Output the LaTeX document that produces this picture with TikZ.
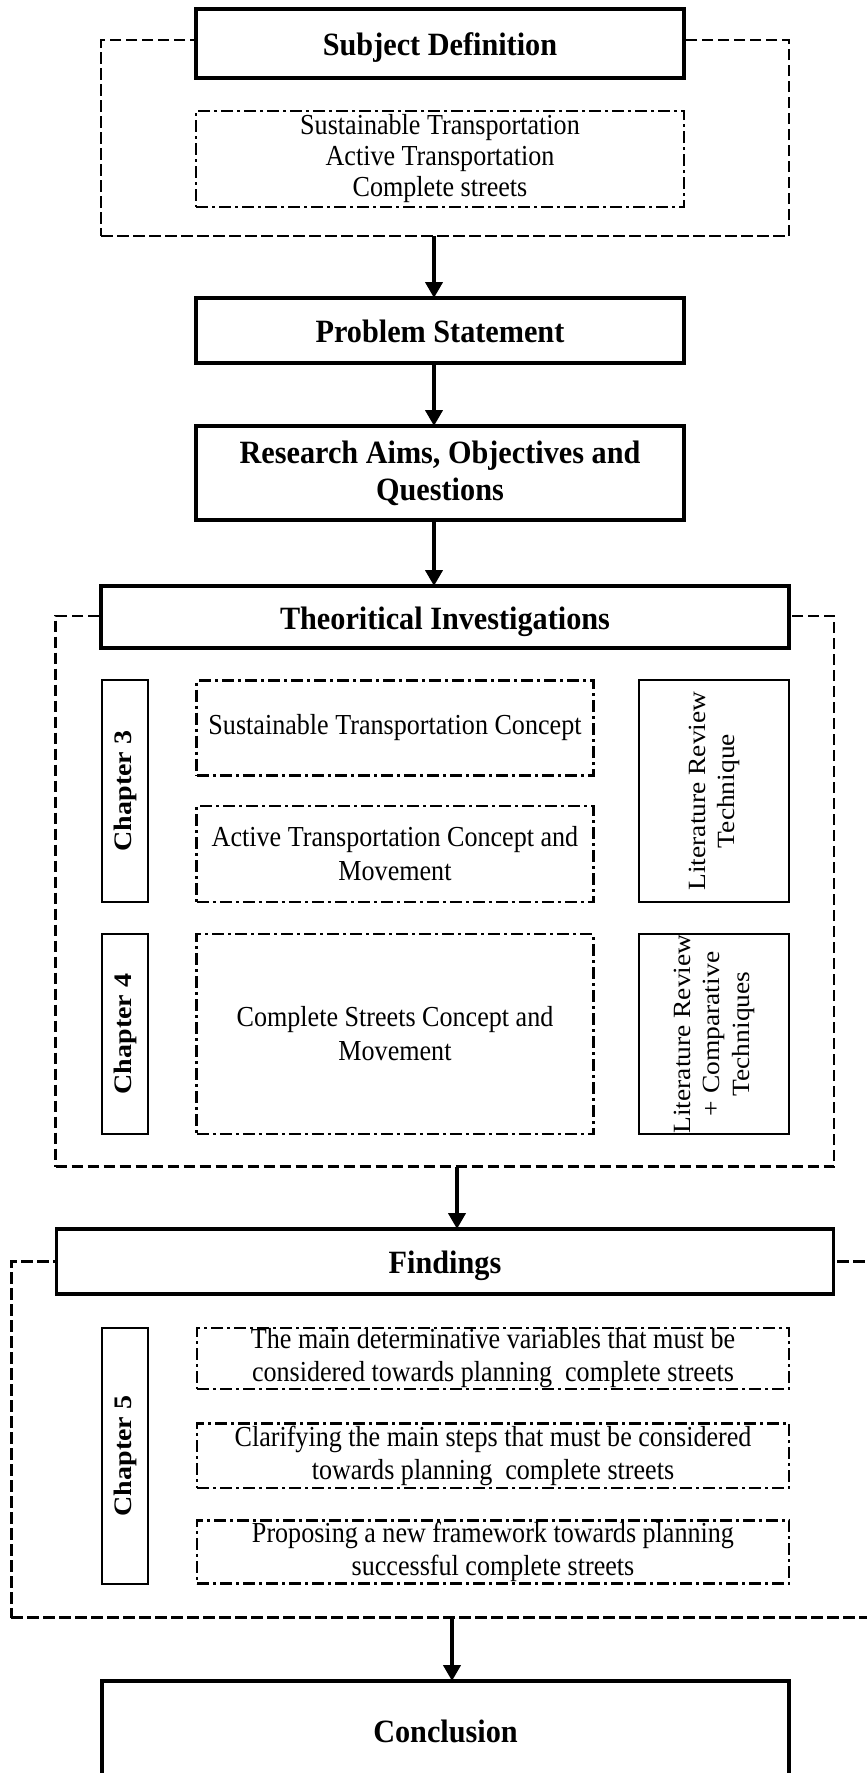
\documentclass[tikz,border=0pt]{standalone}
\usepackage{fontspec}
\setmainfont{Liberation Serif}
\newfontfamily\hreg{Liberation Serif}[FakeStretch=0.9]
\newfontfamily\hbf{Liberation Serif}[FakeStretch=0.93]
\usetikzlibrary{arrows.meta}

\tikzset{
  base/.style={inner sep=0pt, outer sep=0pt, align=center, anchor=center},
  titlebox/.style={base, draw, line width=3.2pt, fill=white,
    font=\hbf\bfseries\fontsize{32.5}{37}\selectfont},
  oneline/.style={text height=26pt, text depth=2pt},
  sidebox/.style={base, draw, line width=2.2pt},
  dotbox/.style={base, draw, line width=2.6pt,
    dash pattern=on 12pt off 4pt on 3pt off 4pt,
    font=\hreg\fontsize{29}{34}\selectfont},
  groupbox/.style={base, draw, line width=2.7pt, dash pattern=on 11.5pt off 4.5pt},
  arr/.style={line width=4.5pt, -{Triangle[length=16pt,width=17pt]}},
}
% rotated labels, slightly narrowed across the glyphs
\newcommand{\chaplabel}[1]{\rotatebox{90}{\scalebox{1}[0.9]{\bfseries\fontsize{28}{32}\selectfont #1}}}
\newcommand{\sidelabel}[1]{\rotatebox{90}{\scalebox{1}[0.9]{\fontsize{27.5}{33}\selectfont
  \begin{tabular}{@{}c@{}}#1\end{tabular}}}}

\begin{document}
\begin{tikzpicture}[x=1pt,y=-1pt]
\useasboundingbox (0,0) rectangle (867,1773);
\clip (0,0) rectangle (867,1773);

% dashed grouping frames
\node[groupbox, minimum width=688pt, minimum height=196pt] (g1) at (445,138) {};
\node[groupbox, minimum width=778.5pt, minimum height=550.5pt] (g2) at (444.75,891.25) {};
\node[groupbox, minimum width=888.7pt, minimum height=356pt] (g3) at (455.65,1439.5) {};

% subject definition
\node[titlebox, oneline, minimum width=488pt, minimum height=69pt] (sd) at (440,43.5) {Subject Definition};
\node[dotbox, minimum width=488pt, minimum height=96pt, font=\hreg\fontsize{29}{31}\selectfont] (terms) at (440,159)
  {Sustainable Transportation\\Active Transportation\\Complete streets};

% problem statement and aims
\node[titlebox, oneline, minimum width=488pt, minimum height=65pt] (ps) at (440,330.5) {Problem Statement};
\node[titlebox, minimum width=488pt, minimum height=94pt] (ra) at (440,473)
  {Research Aims, Objectives and\\Questions};

% theoretical investigations
\node[titlebox, oneline, minimum width=688pt, minimum height=62pt] (ti) at (445,617) {Theoritical Investigations};
\node[sidebox, minimum width=46pt, minimum height=221.5pt] (ch3) at (125,791) {\chaplabel{Chapter 3}};
\node[dotbox, minimum width=396.5pt, minimum height=95pt] (stc) at (395,728) {Sustainable Transportation Concept};
\node[dotbox, minimum width=396.5pt, minimum height=96pt] (atc) at (395,854)
  {Active Transportation Concept and\\Movement};
\node[sidebox, minimum width=150pt, minimum height=221.5pt] (lrt) at (714,791)
  {\sidelabel{Literature Review\\Technique}};
\node[sidebox, minimum width=46pt, minimum height=200pt] (ch4) at (125,1034) {\chaplabel{Chapter 4}};
\node[dotbox, minimum width=396.5pt, minimum height=200pt] (csc) at (395,1034)
  {Complete Streets Concept and\\Movement};
\node[sidebox, minimum width=150pt, minimum height=200pt] (lrc) at (714,1034)
  {\sidelabel{Literature Review\\+ Comparative\\Techniques}};

% findings
\node[titlebox, oneline, minimum width=777.5pt, minimum height=65pt] (fd) at (445,1261.5) {Findings};
\node[sidebox, minimum width=46pt, minimum height=256pt] (ch5) at (125,1456) {\chaplabel{Chapter 5}};
\node[dotbox, minimum width=592pt, minimum height=61pt, font=\hreg\fontsize{29}{33}\selectfont] (f1) at (493,1358.5)
  {The main determinative variables that must be\\considered towards planning\ \ complete streets};
\node[dotbox, minimum width=592pt, minimum height=64.5pt, font=\hreg\fontsize{29}{33}\selectfont] (f2) at (493,1455.75)
  {Clarifying the main steps that must be considered\\towards planning\ \ complete streets};
\node[dotbox, minimum width=592pt, minimum height=63.5pt, font=\hreg\fontsize{29}{33}\selectfont] (f3) at (493,1552)
  {Proposing a new framework towards planning\\successful complete streets};

% conclusion (runs past the lower edge)
\node[titlebox, text height=26pt, text depth=14pt, minimum width=687pt, minimum height=110pt] (cn) at (445.5,1736) {Conclusion};

% flow arrows
\coordinate (ax1) at (434,0);
\coordinate (ax2) at (457,0);
\coordinate (ax3) at (452,0);
\draw[arr] (g1.south -| ax1) -- (ps.north -| ax1);
\draw[arr] (ps.south -| ax1) -- (ra.north -| ax1);
\draw[arr] (ra.south -| ax1) -- (ti.north -| ax1);
\draw[arr] (g2.south -| ax2) -- (fd.north -| ax2);
\draw[arr] (g3.south -| ax3) -- (cn.north -| ax3);
\end{tikzpicture}
\end{document}
